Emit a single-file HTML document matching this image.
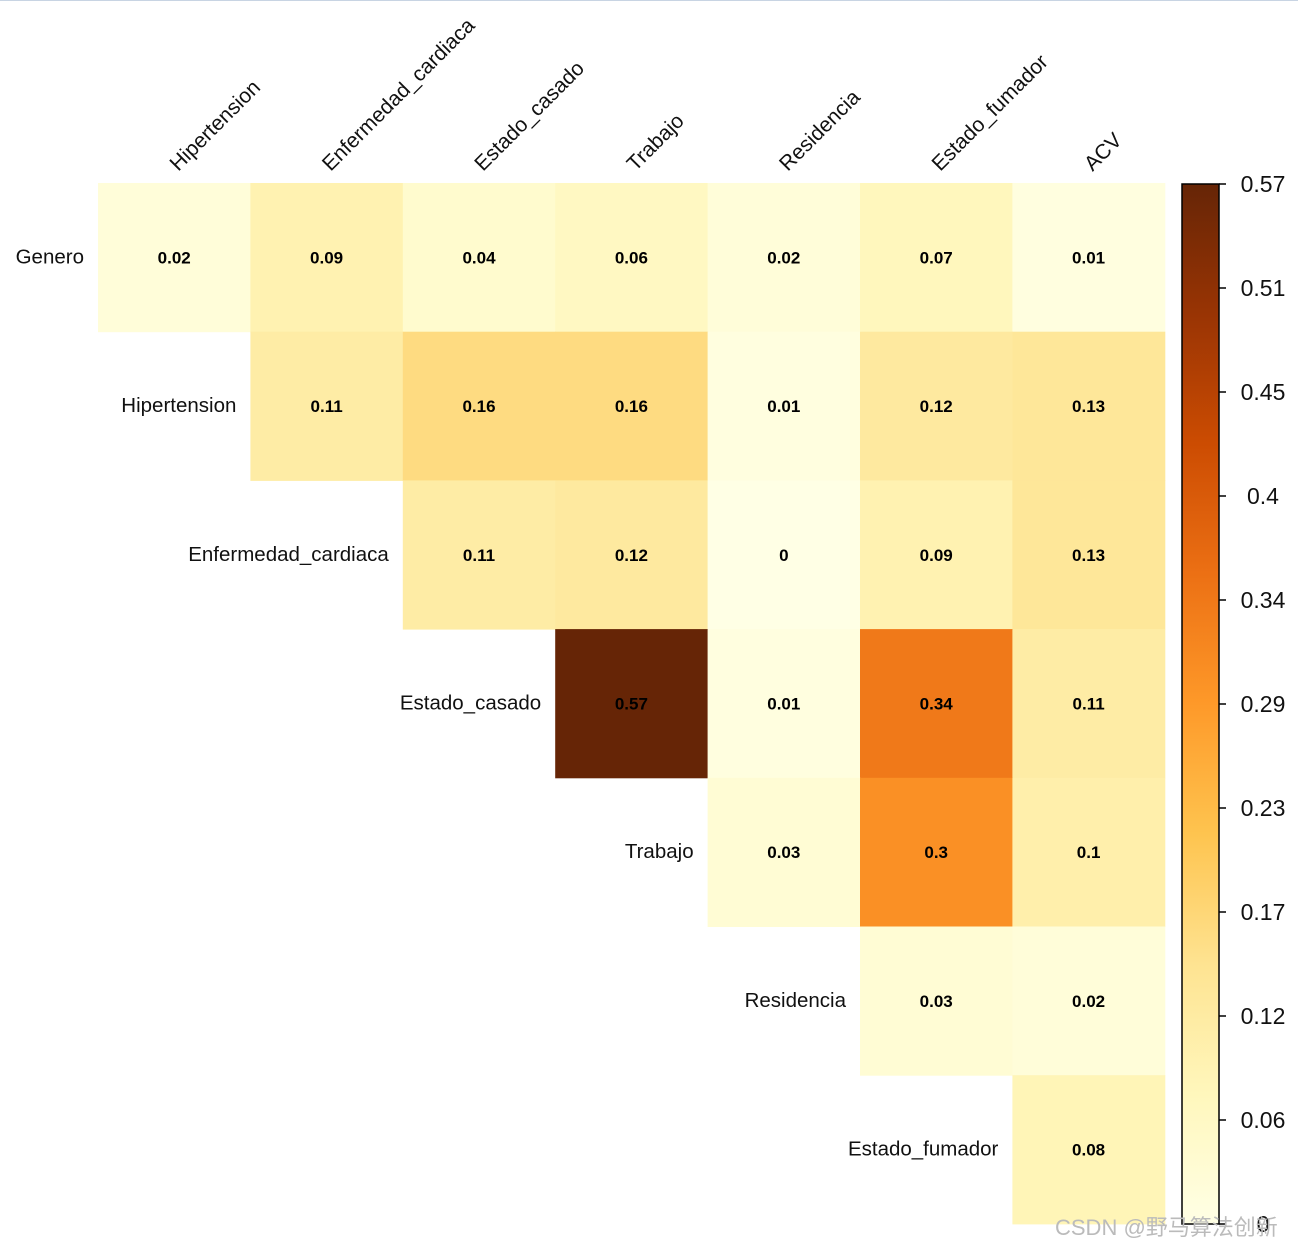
<!DOCTYPE html>
<html><head><meta charset="utf-8"><style>
body{margin:0;background:#fff;width:1298px;height:1247px;overflow:hidden;font-family:"Liberation Sans",sans-serif}
</style></head><body>
<svg width="1298" height="1247">
<line x1="0" y1="0.5" x2="1298" y2="0.5" stroke="#c8d4e3"/>
<defs><linearGradient id="cg" x1="0" y1="1" x2="0" y2="0"></linearGradient></defs>
<g id="cells"></g><g id="labels"></g><g id="cbar"></g>
</svg>
<script>
const rowLabels=["Genero","Hipertension","Enfermedad_cardiaca","Estado_casado","Trabajo","Residencia","Estado_fumador"];
const colLabels=["Hipertension","Enfermedad_cardiaca","Estado_casado","Trabajo","Residencia","Estado_fumador","ACV"];
const values=[
[0.02,0.09,0.04,0.06,0.02,0.07,0.01],
[0.11,0.16,0.16,0.01,0.12,0.13],
[0.11,0.12,0,0.09,0.13],
[0.57,0.01,0.34,0.11],
[0.03,0.3,0.1],
[0.03,0.02],
[0.08]];
const tickLabels=["0","0.06","0.12","0.17","0.23","0.29","0.34","0.4","0.45","0.51","0.57"];
const vmax=0.57;
const pal=["#ffffe5","#fff7bc","#fee391","#fec44f","#fe9929","#ec7014","#cc4c02","#993404","#662506"];
const X0=98,CW=152.4,Y0=183,RH=148.7;
const xs=c=>X0+c*CW, ys=r=>Y0+r*RH;
function hex(h){return [1,3,5].map(i=>parseInt(h.substr(i,2),16));}
function color(v){let t=Math.max(0,Math.min(1,v/vmax))*(pal.length-1);let i=Math.min(Math.floor(t),pal.length-2),f=t-i;
const a=hex(pal[i]),b=hex(pal[i+1]);return "rgb("+a.map((x,k)=>Math.round(x+(b[k]-x)*f)).join(",")+")";}
const NS="http://www.w3.org/2000/svg";
function mk(t,at,p){const e=document.createElementNS(NS,t);for(const k in at)e.setAttribute(k,at[k]);p.appendChild(e);return e;}
const cells=document.getElementById("cells"),labels=document.getElementById("labels"),cbar=document.getElementById("cbar");
values.forEach((row,r)=>{row.forEach((v,j)=>{const c=r+j;
const rect=mk("rect",{x:xs(c),y:ys(r),width:CW+0.5,height:RH+0.5,fill:color(v)},cells);


const t=mk("text",{x:xs(c)+CW/2,y:ys(r)+RH/2+6,"text-anchor":"middle","font-size":"17","font-weight":"bold",fill:"#000"},cells);
t.textContent=String(v);

});
const rl=mk("text",{x:xs(r)-14,y:ys(r)+RH/2+6,"text-anchor":"end","font-size":"20.5",fill:"#111"},labels);
rl.textContent=rowLabels[r];

});
colLabels.forEach((l,c)=>{const x=xs(c)+CW/2+4,y=172;
const t=mk("text",{x:x,y:y,"font-size":"21",fill:"#111",transform:"rotate(-45 "+x+" "+y+")"},labels);
t.textContent=l;

});
const g=document.getElementById("cg");
pal.forEach((p,i)=>mk("stop",{offset:(i/(pal.length-1)),"stop-color":p},g));
const CB_T=184,CB_B=1224,CBX=1182,CBW=37;
const bar=mk("rect",{x:CBX,y:CB_T,width:CBW,height:CB_B-CB_T,fill:"url(#cg)",stroke:"#000","stroke-width":1.5},cbar);


tickLabels.forEach((l,i)=>{const y=CB_T+(CB_B-CB_T)*(1-i/(tickLabels.length-1));
mk("line",{x1:CBX+CBW,x2:CBX+CBW+7,y1:y,y2:y,stroke:"#000","stroke-width":1.5},cbar);
const t=mk("text",{x:1263,y:y+8,"text-anchor":"middle","font-size":"23",fill:"#111"},cbar);
t.textContent=l;

});
</script>
<div style="position:absolute;left:1055px;top:1210px;font-size:22px;color:#bbb;font-family:'Liberation Sans','Noto Sans CJK SC',sans-serif">CSDN @野马算法创新</div>
</body></html>
